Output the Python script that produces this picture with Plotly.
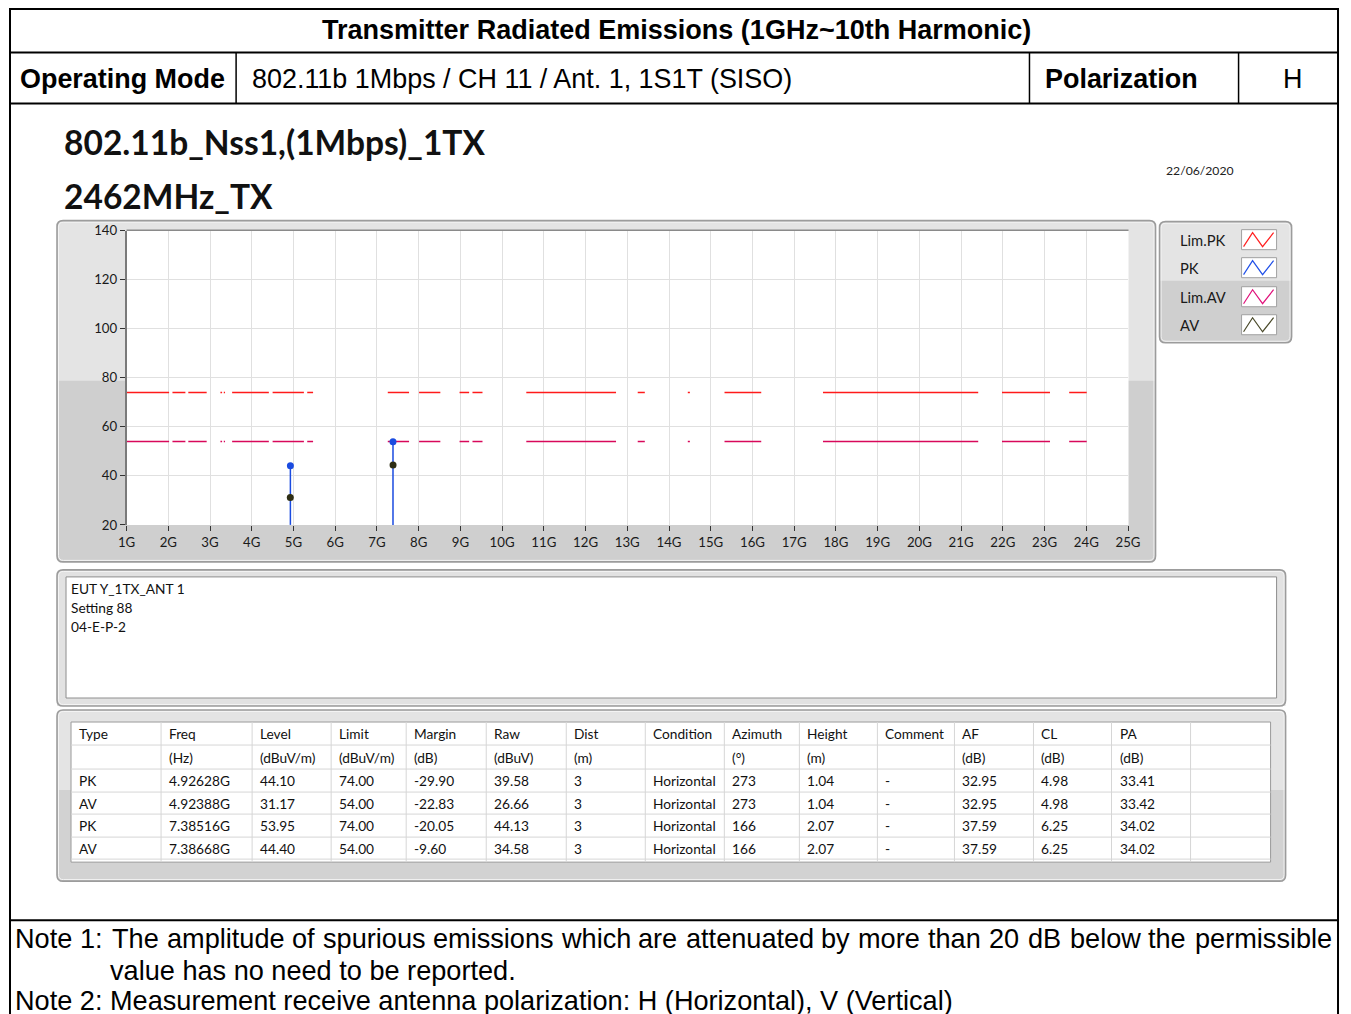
import plotly.graph_objects as go

W, H = 1351, 1014
# page placement of the graph: offset and scale of the drawn figure
AX, SX = 9.0, 0.984
AY, SY = 8.5, 0.9835

# ---------------- measurement data ----------------
pk_freq_ghz = [4.92628, 7.38516]
pk_level = [44.10, 53.95]
av_freq_ghz = [4.92388, 7.38668]
av_level = [31.17, 44.40]

limit_pk = 74.0
limit_av = 54.0
# frequency spans (GHz) on which the limit lines are defined
limit_seg_start = [1.01, 2.10, 2.48, 3.25, 3.33, 3.53, 4.50, 5.33, 7.26, 8.01,
                   8.98, 9.29, 10.58, 13.25, 14.45, 15.33, 17.69, 21.98, 23.59]
limit_seg_end = [2.02, 2.41, 2.92, 3.29, 3.36, 4.41, 5.25, 5.47, 7.77, 8.52,
                 9.21, 9.53, 12.73, 13.42, 14.50, 16.21, 21.41, 23.13, 24.01]

x_tick_vals = list(range(1, 26))
x_tick_text = [f"{v}G" for v in x_tick_vals]
y_tick_vals = [20, 40, 60, 80, 100, 120, 140]

table_header = ["Type", "Freq", "Level", "Limit", "Margin", "Raw", "Dist", "Condition",
                "Azimuth", "Height", "Comment", "AF", "CL", "PA", ""]
table_units = ["", "(Hz)", "(dBuV/m)", "(dBuV/m)", "(dB)", "(dBuV)", "(m)", "",
               "(°)", "(m)", "", "(dB)", "(dB)", "(dB)", ""]
col_type = ["PK", "AV", "PK", "AV"]
col_freq = ["4.92628G", "4.92388G", "7.38516G", "7.38668G"]
col_level = ["44.10", "31.17", "53.95", "44.40"]
col_limit = ["74.00", "54.00", "74.00", "54.00"]
col_margin = ["-29.90", "-22.83", "-20.05", "-9.60"]
col_raw = ["39.58", "26.66", "44.13", "34.58"]
col_dist = ["3", "3", "3", "3"]
col_condition = ["Horizontal", "Horizontal", "Horizontal", "Horizontal"]
col_azimuth = ["273", "273", "166", "166"]
col_height = ["1.04", "1.04", "2.07", "2.07"]
col_comment = ["-", "-", "-", "-"]
col_af = ["32.95", "32.95", "37.59", "37.59"]
col_cl = ["4.98", "4.98", "6.25", "6.25"]
col_pa = ["33.41", "33.42", "34.02", "34.02"]

legend_names = ["Lim.PK", "PK", "Lim.AV", "AV"]
legend_colors = ["#ff2020", "#2050e8", "#e0107a", "#4a4a2a"]

comment_lines = ["EUT Y_1TX_ANT 1", "Setting 88", "04-E-P-2"]

header_title = "Transmitter Radiated Emissions (1GHz~10th Harmonic)"
mode_label = "Operating Mode"
mode_value = "802.11b 1Mbps / CH 11 / Ant. 1, 1S1T (SISO)"
pol_label = "Polarization"
pol_value = "H"
chart_title_1 = "802.11b_Nss1,(1Mbps)_1TX"
chart_title_2 = "2462MHz_TX"
date_text = "22/06/2020"
note_1 = ("Note 1: The amplitude of spurious emissions which are attenuated by more "
          "than 20 dB below the permissible")
note_1b = "value has no need to be reported."
note_2 = "Note 2: Measurement receive antenna polarization: H (Horizontal), V (Vertical)"

# ---------------- helpers (page pixel -> paper) ----------------
def X(px):
    return (px - AX) / SX / W


def Y(py):
    return 1 - (py - AY) / SY / H


FS = 1 / SX   # font size factor

shapes = []
annotations = []

LV_FONT = "Lato"
DOC_FONT = "Liberation Sans, Arial"


def rect(x0, y0, x1, y1, fill=None, line=None, lw=1, layer="below"):
    shapes.append(dict(type="rect", xref="paper", yref="paper",
                       x0=X(x0), x1=X(x1), y0=Y(y1), y1=Y(y0),
                       fillcolor=fill or "rgba(0,0,0,0)",
                       line=dict(color=line or "rgba(0,0,0,0)", width=lw if line else 0),
                       layer=layer))


def hline(x0, x1, y, color, lw=1, layer="above"):
    shapes.append(dict(type="line", xref="paper", yref="paper",
                       x0=X(x0), x1=X(x1), y0=Y(y), y1=Y(y),
                       line=dict(color=color, width=lw), layer=layer))


def vline(x, y0, y1, color, lw=1, layer="above"):
    shapes.append(dict(type="line", xref="paper", yref="paper",
                       x0=X(x), x1=X(x), y0=Y(y0), y1=Y(y1),
                       line=dict(color=color, width=lw), layer=layer))


def rounded(x0, y0, x1, y1, r, fill=None, line=None, lw=1, top=True, bottom=True):
    def p(x, y):
        return f"{X(x):.6f},{Y(y):.6f}"
    rt = r if top else 0
    rb = r if bottom else 0
    d = f"M {p(x0 + rt, y0)} L {p(x1 - rt, y0)} "
    d += f"Q {p(x1, y0)} {p(x1, y0 + rt)} " if rt else ""
    d += f"L {p(x1, y1 - rb)} "
    d += f"Q {p(x1, y1)} {p(x1 - rb, y1)} " if rb else ""
    d += f"L {p(x0 + rb, y1)} "
    d += f"Q {p(x0, y1)} {p(x0, y1 - rb)} " if rb else ""
    d += f"L {p(x0, y0 + rt)} "
    d += f"Q {p(x0, y0)} {p(x0 + rt, y0)} " if rt else ""
    d += "Z"
    shapes.append(dict(type="path", xref="paper", yref="paper", path=d,
                       fillcolor=fill or "rgba(0,0,0,0)",
                       line=dict(color=line or "rgba(0,0,0,0)", width=lw if line else 0),
                       layer="below"))


def text(x, y, s, size, family=LV_FONT, color="#1a1a1a", bold=False,
         xanchor="left", yanchor="middle"):
    annotations.append(dict(x=X(x), y=Y(y), xref="paper", yref="paper",
                            text=f"<b>{s}</b>" if bold else s, showarrow=False,
                            xanchor=xanchor, yanchor=yanchor, borderpad=0,
                            font=dict(size=size * FS, family=family, color=color)))


def panel(x0, y0, x1, y1, split, top_fill, low_fill):
    rounded(x0, y0, x1, y1, 6, fill=low_fill)
    rounded(x0, y0, x1, split, 6, fill=top_fill, bottom=False)
    rounded(x0 + 1.5, y0 + 1.5, x1 - 1.5, y1 - 1.5, 5, line="#f4f4f4", lw=1)
    rounded(x0, y0, x1, y1, 6, line="#9c9c9c", lw=1.6)


# ---------------- document frame ----------------
FR_L, FR_T = AX + 1, AY + 1
FR_R = AX + SX * (W - 1)
rect(FR_L, FR_T, FR_R, H + 30, line="black", lw=2, layer="above")
hline(FR_L, FR_R, 53, "black", 2)
hline(FR_L, FR_R, 104, "black", 2)
hline(FR_L, FR_R, 920, "black", 2)
for xs in (236, 1029, 1238):
    vline(xs, 53, 104, "black", 1.5)

text(676, 30, header_title, 26.6, DOC_FONT, "black", bold=True, xanchor="center")
text(19, 79, mode_label, 26.5, DOC_FONT, "black", bold=True)
text(251, 79, mode_value, 26.5, DOC_FONT, "black")
text(1044, 79, pol_label, 26.5, DOC_FONT, "black", bold=True)
text(1292, 79, pol_value, 26.5, DOC_FONT, "black", xanchor="center")

# ---------------- chart header ----------------
text(63, 142, chart_title_1, 33, LV_FONT, "#111", bold=True)
text(63, 196, chart_title_2, 33, LV_FONT, "#111", bold=True)
text(1199, 171, date_text, 12, LV_FONT, "#222", xanchor="center")

# ---------------- graph panel ----------------
PX0, PX1 = 126.5, 1127.5      # plot area, page pixels
PY0, PY1 = 231.0, 525.0
panel(57, 221, 1155, 562, 381, "#e4e4e4", "#cfcfcf")
rect(PX0, PY0, PX1 + 0.5, PY1, fill="white")
hline(PX0, PX1 + 0.5, PY0 - 0.5, "#8a8a8a", 1.5)

# legend panel
panel(1159, 222, 1291, 343, 281, "#e4e4e4", "#cfcfcf")
leg_rows = [240, 268, 297, 325]
for name, color, ry in zip(legend_names, legend_colors, leg_rows):
    text(1178, ry, name, 14.5, LV_FONT, "#1a1a1a")
    rect(1241, ry - 10, 1276, ry + 10, fill="white", line="#a0a0a0", lw=1, layer="above")
    pts = [(1243, ry + 7), (1252, ry - 7), (1262, ry + 7), (1273, ry - 7)]
    d = "M " + " L ".join(f"{X(a):.6f},{Y(b):.6f}" for a, b in pts)
    shapes.append(dict(type="path", xref="paper", yref="paper", path=d,
                       line=dict(color=color, width=1.2), layer="above"))

# ---------------- comment panel ----------------
panel(57, 570, 1285, 706, 706, "#e2e2e2", "#e2e2e2")
rect(66, 577, 1276, 698, fill="white", line="#8e8e8e", lw=1)
for i, s in enumerate(comment_lines):
    text(70, 589 + 19 * i, s, 13.5, LV_FONT, "#111")

# ---------------- result table ----------------
panel(57, 710, 1285, 881, 790, "#e4e4e4", "#d2d2d2")
TX0, TX1, TY0, TY1 = 71, 1270, 722, 862
rect(TX0, TY0, TX1, TY1, fill="white", line="#9a9a9a", lw=1)
col_edges = [71, 161, 252, 331, 406, 486, 566, 645, 724, 799, 877, 954, 1033, 1111, 1190, 1270]
row_edges = [722, 745, 769, 792, 814, 837, 859]
for xe in col_edges[1:-1]:
    vline(xe, TY0, TY1, "#d6d6d6", 1)
for ye in row_edges[1:]:
    hline(TX0, TX1, ye, "#d6d6d6", 1)

data_cols = [col_type, col_freq, col_level, col_limit, col_margin, col_raw, col_dist,
             col_condition, col_azimuth, col_height, col_comment, col_af, col_cl, col_pa,
             [""] * 4]
rows = [table_header, table_units] + [[c[r] for c in data_cols] for r in range(4)]
for r, row in enumerate(rows):
    yc = (row_edges[r] + row_edges[r + 1]) / 2
    for c, val in enumerate(row):
        if val:
            text(col_edges[c] + 7, yc, val, 13.5, LV_FONT, "#111")

# ---------------- notes (justified first line) ----------------
ARIAL = {" ": 278, "a": 556, "b": 556, "c": 500, "d": 556, "e": 556, "f": 278, "g": 556,
         "h": 556, "i": 222, "j": 222, "k": 500, "l": 222, "m": 833, "n": 556, "o": 556,
         "p": 556, "q": 556, "r": 333, "s": 500, "t": 278, "u": 556, "v": 500, "w": 722,
         "x": 500, "y": 500, "z": 500, ":": 278, ".": 278, "N": 722, "T": 611, "B": 667}
NOTE_SIZE = 26.7


def text_width(s):
    return sum(ARIAL.get(ch, 556) for ch in s) * NOTE_SIZE / 1000


words = note_1.split(" ")
natural = sum(text_width(w) for w in words)
gap = (1328 - 14 - natural) / (len(words) - 1)
xw = 14
for w in words:
    text(xw, 938, w, NOTE_SIZE, DOC_FONT, "black")
    xw += text_width(w) + gap
text(109, 970, note_1b, NOTE_SIZE, DOC_FONT, "black")
text(14, 1000, note_2, NOTE_SIZE, DOC_FONT, "black")

# ---------------- traces ----------------
def segments(level):
    xs, ys = [], []
    for a, b in zip(limit_seg_start, limit_seg_end):
        xs += [a, b, None]
        ys += [level, level, None]
    return xs, ys


fig = go.Figure()
lx, ly = segments(limit_pk)
fig.add_trace(go.Scatter(x=lx, y=ly, mode="lines", name="Lim.PK",
                         line=dict(color="#ff1a1a", width=1.5)))
lx, ly = segments(limit_av)
fig.add_trace(go.Scatter(x=lx, y=ly, mode="lines", name="Lim.AV",
                         line=dict(color="#d8085a", width=1.5)))

stem_x, stem_y = [], []
for f, lv in zip(pk_freq_ghz, pk_level):
    stem_x += [f, f, None]
    stem_y += [y_tick_vals[0], lv, None]
fig.add_trace(go.Scatter(x=stem_x, y=stem_y, mode="lines", name="PK stem",
                         line=dict(color="#1a4be0", width=1.5)))
fig.add_trace(go.Scatter(x=pk_freq_ghz, y=pk_level, mode="markers", name="PK",
                         marker=dict(color="#1a4be0", size=7)))
fig.add_trace(go.Scatter(x=av_freq_ghz, y=av_level, mode="markers", name="AV",
                         marker=dict(color="#2e2e14", size=7)))

axis_font = dict(family=LV_FONT, size=13 * FS, color="#1a1a1a")
fig.update_layout(
    width=W, height=H, autosize=False,
    margin=dict(l=0, r=0, t=0, b=0, pad=0),
    paper_bgcolor="white", plot_bgcolor="rgba(0,0,0,0)",
    showlegend=False,
    shapes=shapes, annotations=annotations,
    xaxis=dict(domain=[X(PX0), X(PX1)], range=[1, 25], tickmode="array",
               tickvals=x_tick_vals, ticktext=x_tick_text, ticks="outside",
               ticklen=5, tickwidth=1.2, tickcolor="#333", tickfont=axis_font,
               showgrid=True, gridcolor="#e0e0e0", gridwidth=1, zeroline=False,
               showline=False, fixedrange=True),
    yaxis=dict(domain=[Y(PY1), Y(PY0)], range=[20, 140], tickmode="array",
               tickvals=y_tick_vals, ticks="outside", ticklen=5, tickwidth=1.2,
               tickcolor="#333", tickfont=axis_font, showgrid=True,
               gridcolor="#e0e0e0", gridwidth=1, zeroline=False,
               showline=True, linecolor="#7a7a7a", linewidth=1.5, fixedrange=True),
)

fig.write_html("out.html", config={"displayModeBar": False})
